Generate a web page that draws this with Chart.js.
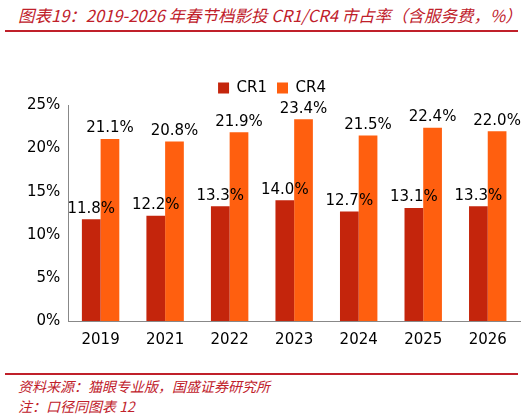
<!DOCTYPE html>
<html>
<head>
<meta charset="utf-8">
<script src="https://cdn.jsdelivr.net/npm/chart.js@4.4.0/dist/chart.umd.min.js"></script>
<style>
body { margin: 0; width: 526px; height: 419px; background: #fff; position: relative; overflow: hidden; font-family: "Noto Sans CJK SC", sans-serif; }
#title { position: absolute; left: 18px; top: 3px; color: #C0202A; font-style: italic; font-size: 16.5px; }
#topline { position: absolute; left: 5px; top: 30px; width: 513px; height: 2px; background: #C0202A; }
#botline { position: absolute; left: 5px; top: 373px; width: 513px; height: 2px; background: #C0202A; }
#foot { position: absolute; left: 18px; top: 376px; color: #C0202A; font-style: italic; font-size: 14px; line-height: 20px; }
#wrap { position: absolute; left: 0; top: 40px; width: 526px; height: 325px; }
</style>
</head>
<body>
<div id="title">图表19：2019-2026 年春节档影投 CR1/CR4 市占率（含服务费，%）</div>
<div id="topline"></div>
<div id="wrap"><canvas id="c"></canvas></div>
<div id="botline"></div>
<div id="foot">资料来源：猫眼专业版，国盛证券研究所<br>注：口径同图表 12</div>
<script>
// ---------------- data ----------------
const years = ['2019', '2021', '2022', '2023', '2024', '2025', '2026'];
const cr1 = [11.8, 12.2, 13.3, 14.0, 12.7, 13.1, 13.3];
const cr4 = [21.1, 20.8, 21.9, 23.4, 21.5, 22.4, 22.0];
const yTicks = [0, 5, 10, 15, 20, 25];

const FONT = '"DejaVu Sans", sans-serif';

// draw value labels above bars
const valueLabels = {
	id: 'valueLabels',
	afterDatasetsDraw(chart) {
		const ctx = chart.ctx;
		ctx.save();
		ctx.font = '15px ' + FONT;
		ctx.fillStyle = '#000';
		ctx.textAlign = 'center';
		ctx.textBaseline = 'bottom';
		chart.data.datasets.forEach((ds, i) => {
			chart.getDatasetMeta(i).data.forEach((bar, j) => {
				ctx.fillText(ds.data[j].toFixed(1) + '%', bar.x, bar.y - 3);
			});
		});
		ctx.restore();
	}
};

new Chart(document.getElementById('c'), {
	type: 'bar',
	data: {
		labels: years,
		datasets: [
			{ label: 'CR1', data: cr1, backgroundColor: '#C4250C', categoryPercentage: 0.58, barPercentage: 1 },
			{ label: 'CR4', data: cr4, backgroundColor: '#FF5F0F', categoryPercentage: 0.58, barPercentage: 1 }
		]
	},
	options: {
		responsive: true,
		maintainAspectRatio: false,
		animation: false,
		layout: { padding: { left: 24, right: 6, top: 0, bottom: 6 } },
		scales: {
			x: {
				grid: { display: false, drawTicks: false },
				border: { color: '#888' },
				ticks: { color: '#000', font: { size: 15, family: FONT }, padding: 10 }
			},
			y: {
				min: 0, max: 25,
				afterBuildTicks: axis => { axis.ticks = yTicks.map(v => ({ value: v })); },
				grid: { display: false, drawTicks: true, tickLength: 5, tickColor: '#888' },
				border: { color: '#888' },
				ticks: { color: '#000', font: { size: 15, family: FONT }, callback: v => v + '%' }
			}
		},
		plugins: {
			legend: {
				labels: { boxWidth: 11, boxHeight: 11, color: '#000', font: { size: 15, family: FONT }, padding: 10 }
			},
			title: { display: true, text: '', padding: { top: 0, bottom: 16 } },
			tooltip: { enabled: false }
		}
	},
	plugins: [valueLabels]
});
</script>
</body>
</html>
